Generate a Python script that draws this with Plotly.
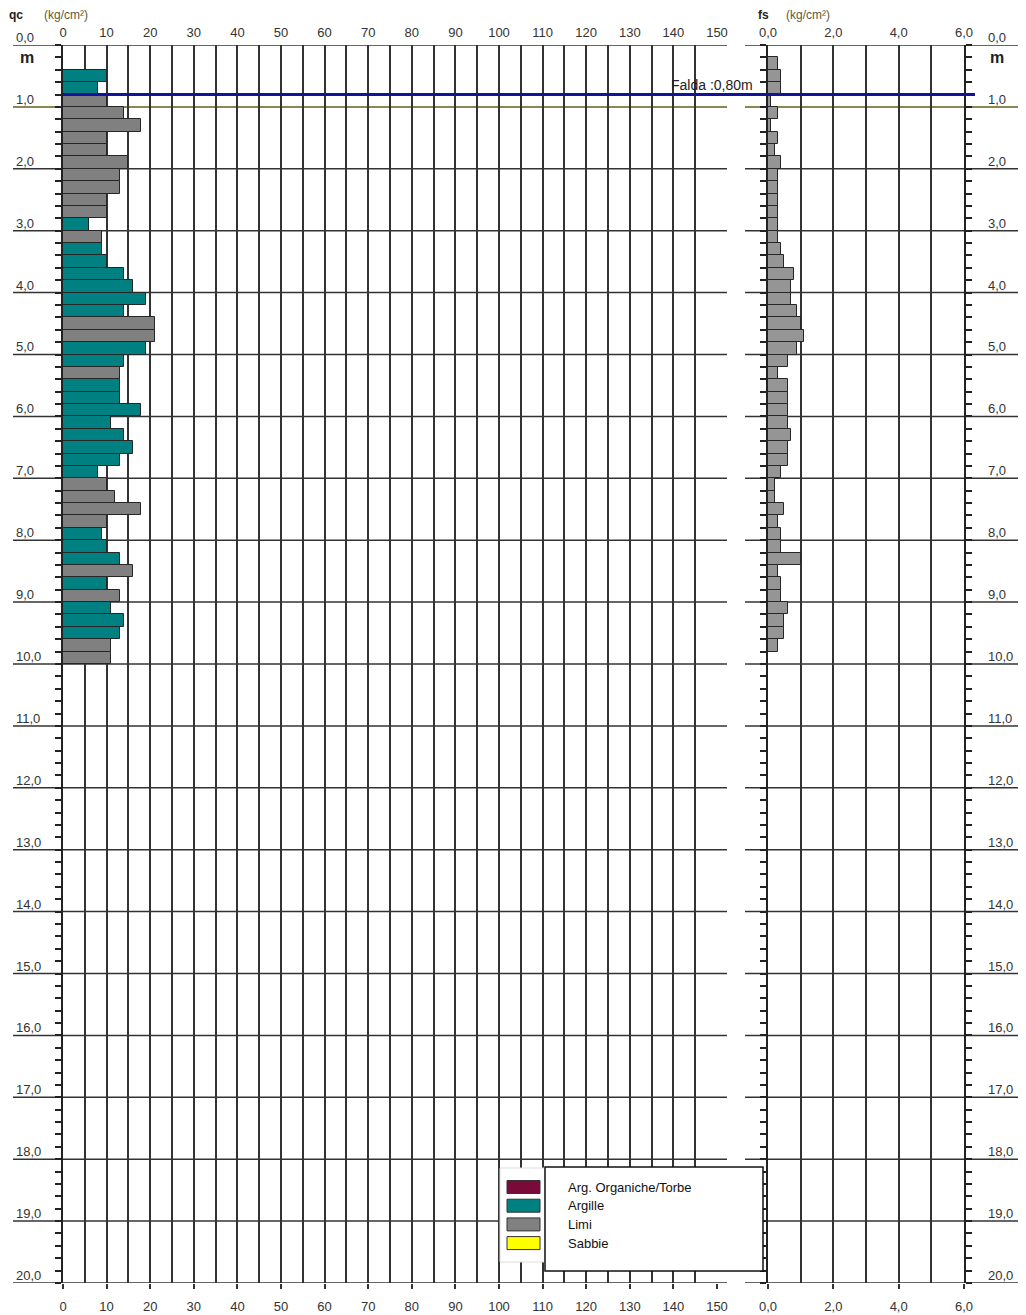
import plotly.graph_objects as go

W, H = 1026, 1315
FONT = "Liberation Sans, Arial, sans-serif"


def px(X):
    return X / W


def py(Y):
    return 1 - Y / H


# ---------------- data ----------------
# qc readings: top of each 0.2 m interval, value (kg/cm2), soil class
qc_top = [0.4, 0.6, 0.8, 1.0, 1.2, 1.4, 1.6, 1.8, 2.0, 2.2, 2.4, 2.6, 2.8, 3.0, 3.2, 3.4,
          3.6, 3.8, 4.0, 4.2, 4.4, 4.6, 4.8, 5.0, 5.2, 5.4, 5.6, 5.8, 6.0, 6.2, 6.4, 6.6,
          6.8, 7.0, 7.2, 7.4, 7.6, 7.8, 8.0, 8.2, 8.4, 8.6, 8.8, 9.0, 9.2, 9.4, 9.6, 9.8]
qc_val = [10, 8, 10, 14, 18, 10, 10, 15, 13, 13, 10, 10, 6, 9, 9, 10,
          14, 16, 19, 14, 21, 21, 19, 14, 13, 13, 13, 18, 11, 14, 16, 13,
          8, 10, 12, 18, 10, 9, 10, 13, 16, 10, 13, 11, 14, 13, 11, 11]
qc_class = ["A", "A", "L", "L", "L", "L", "L", "L", "L", "L", "L", "L", "A", "L", "A", "A",
            "A", "A", "A", "A", "L", "L", "A", "A", "L", "A", "A", "A", "A", "A", "A", "A",
            "A", "L", "L", "L", "L", "A", "A", "A", "L", "A", "L", "A", "A", "A", "L", "L"]

# fs readings: top of each 0.2 m interval, value (kg/cm2)
fs_top = [0.2, 0.4, 0.6, 0.8, 1.0, 1.2, 1.4, 1.6, 1.8, 2.0, 2.2, 2.4, 2.6, 2.8, 3.0, 3.2,
          3.4, 3.6, 3.8, 4.0, 4.2, 4.4, 4.6, 4.8, 5.0, 5.2, 5.4, 5.6, 5.8, 6.0, 6.2, 6.4,
          6.6, 6.8, 7.0, 7.2, 7.4, 7.6, 7.8, 8.0, 8.2, 8.4, 8.6, 8.8, 9.0, 9.2, 9.4, 9.6]
fs_val = [0.3, 0.4, 0.4, 0.1, 0.3, 0.1, 0.3, 0.2, 0.4, 0.3, 0.3, 0.3, 0.3, 0.3, 0.3, 0.4,
          0.5, 0.8, 0.7, 0.7, 0.9, 1.0, 1.1, 0.9, 0.6, 0.3, 0.6, 0.6, 0.6, 0.6, 0.7, 0.6,
          0.6, 0.4, 0.2, 0.2, 0.5, 0.3, 0.4, 0.4, 1.0, 0.3, 0.4, 0.4, 0.6, 0.5, 0.5, 0.3]

depth_major = [0, 1, 2, 3, 4, 5, 6, 7, 8, 9, 10, 11, 12, 13, 14, 15, 16, 17, 18, 19, 20]
falda_depth = 0.80
falda_label = "Falda :0,80m"

legend_labels = ["Arg. Organiche/Torbe", "Argille", "Limi", "Sabbie"]
legend_colors = ["#7a0a3a", "#008080", "#808080", "#ffff00"]
class_colors = {"A": "#008080", "L": "#808080"}

INTERVAL = 0.2
GRID = "#333333"
TXT = "#333333"

fig = go.Figure()

# qc bars
for cls in ["A", "L"]:
    ys = [t + INTERVAL / 2 for t, c in zip(qc_top, qc_class) if c == cls]
    xs = [v for v, c in zip(qc_val, qc_class) if c == cls]
    fig.add_trace(go.Bar(orientation="h", x=xs, y=ys, width=INTERVAL,
                         marker=dict(color=class_colors[cls], line=dict(color="#262626", width=1)),
                         xaxis="x", yaxis="y", showlegend=False, hoverinfo="skip"))

# fs bars
fig.add_trace(go.Bar(orientation="h", x=fs_val, y=[t + INTERVAL / 2 for t in fs_top], width=INTERVAL,
                     marker=dict(color="#959595", line=dict(color="#262626", width=1)),
                     xaxis="x2", yaxis="y2", showlegend=False, hoverinfo="skip"))

# helper traces so the top axes are drawn
fig.add_trace(go.Scatter(x=[None], y=[None], xaxis="x3", yaxis="y", mode="markers",
                         showlegend=False, hoverinfo="skip"))
fig.add_trace(go.Scatter(x=[None], y=[None], xaxis="x4", yaxis="y2", mode="markers",
                         showlegend=False, hoverinfo="skip"))

tickfont = dict(family=FONT, size=13, color=TXT)
ydom = [py(1283), py(45)]

shapes = []
annotations = []

# horizontal grid lines (per metre)
for d in depth_major:
    col = "#8a8656" if d == 1 else GRID
    wid = 2 if d == 1 else 1.5
    shapes.append(dict(type="line", xref="paper", yref="y", x0=px(13), x1=px(727), y0=d, y1=d,
                       line=dict(color=col, width=wid), layer="below"))
    shapes.append(dict(type="line", xref="paper", yref="y", x0=px(745), x1=px(1018), y0=d, y1=d,
                       line=dict(color=col, width=wid), layer="below"))
    lab = f"{d:.1f}".replace(".", ",")
    annotations.append(dict(xref="paper", yref="y", x=px(15), y=d, text=lab, showarrow=False,
                            xanchor="left", yanchor="bottom", yshift=-1, borderpad=0,
                            font=dict(family=FONT, size=13, color=TXT)))
    annotations.append(dict(xref="paper", yref="y", x=px(987), y=d, text=lab, showarrow=False,
                            xanchor="left", yanchor="bottom", yshift=-1, borderpad=0,
                            font=dict(family=FONT, size=13, color=TXT)))

# water table line
shapes.append(dict(type="line", xref="paper", yref="y", x0=px(63), x1=px(975),
                   y0=falda_depth, y1=falda_depth, line=dict(color="#12129a", width=3), layer="above"))
annotations.append(dict(xref="paper", yref="y", x=px(754), y=falda_depth, text=falda_label,
                        showarrow=False, xanchor="right", yanchor="bottom", yshift=1, borderpad=0,
                        font=dict(family=FONT, size=14, color="#222")))

# "m" labels
for X in (27, 997):
    annotations.append(dict(xref="paper", yref="paper", x=px(X), y=py(57), text="<b>m</b>",
                            showarrow=False, xanchor="center", yanchor="middle",
                            font=dict(family=FONT, size=16, color="#222")))

# axis titles
annotations.append(dict(xref="paper", yref="paper", x=px(7), y=py(15), text="<b>qc</b>",
                        showarrow=False, xanchor="left", yanchor="middle",
                        font=dict(family=FONT, size=12, color="#222")))
annotations.append(dict(xref="paper", yref="paper", x=px(42), y=py(15), text="(kg/cm²)",
                        showarrow=False, xanchor="left", yanchor="middle",
                        font=dict(family=FONT, size=12, color="#5e5a3a")))
annotations.append(dict(xref="paper", yref="paper", x=px(756), y=py(15), text="<b>fs</b>",
                        showarrow=False, xanchor="left", yanchor="middle",
                        font=dict(family=FONT, size=12, color="#222")))
annotations.append(dict(xref="paper", yref="paper", x=px(784), y=py(15), text="(kg/cm²)",
                        showarrow=False, xanchor="left", yanchor="middle",
                        font=dict(family=FONT, size=12, color="#5e5a3a")))

# legend
shapes.append(dict(type="rect", xref="paper", yref="paper", x0=px(500), x1=px(545), y0=py(1262), y1=py(1168),
                   fillcolor="white", line=dict(color="#dddddd", width=1), layer="above"))
shapes.append(dict(type="rect", xref="paper", yref="paper", x0=px(545), x1=px(763), y0=py(1271), y1=py(1167),
                   fillcolor="white", line=dict(color="#111111", width=1.5), layer="above"))
for i, (lab, col) in enumerate(zip(legend_labels, legend_colors)):
    yc = 1187 + i * 18.7
    shapes.append(dict(type="rect", xref="paper", yref="paper", x0=px(507), x1=px(540),
                       y0=py(yc + 6.5), y1=py(yc - 6.5), fillcolor=col,
                       line=dict(color="#333333", width=1), layer="above"))
    annotations.append(dict(xref="paper", yref="paper", x=px(566), y=py(yc), text=lab,
                            showarrow=False, xanchor="left", yanchor="middle",
                            font=dict(family=FONT, size=13, color="#111")))

fig.update_layout(
    width=W, height=H, autosize=False,
    margin=dict(l=0, r=0, t=0, b=0, pad=0, autoexpand=False),
    paper_bgcolor="white", plot_bgcolor="rgba(0,0,0,0)",
    separators=",.",
    barmode="overlay", bargap=0,
    showlegend=False,
    xaxis=dict(domain=[px(63), px(717)], range=[0, 150], anchor="y", side="bottom",
               tickmode="linear", tick0=0, dtick=10, ticks="outside", ticklen=5,
               tickwidth=1.5, tickcolor=GRID, showgrid=True, gridcolor=GRID, gridwidth=1.5,
               minor=dict(dtick=5, tick0=0, showgrid=True, gridcolor=GRID, gridwidth=1.5, ticks=""),
               zeroline=False, showline=False, tickfont=tickfont, ticklabelstandoff=6,
               automargin=False, fixedrange=True),
    xaxis3=dict(overlaying="x", side="top", anchor="y", range=[0, 150],
                tickmode="linear", tick0=0, dtick=10, ticks="", showgrid=False,
                zeroline=False, showline=False, tickfont=tickfont, ticklabelstandoff=4,
                automargin=False, fixedrange=True),
    xaxis2=dict(domain=[px(768), px(964)], range=[0, 6], anchor="y2", side="bottom",
                tickmode="linear", tick0=0, dtick=2, tickformat=".1f", ticks="outside", ticklen=5,
                tickwidth=1.5, tickcolor=GRID, showgrid=True, gridcolor=GRID, gridwidth=1.5,
                minor=dict(dtick=1, tick0=0, showgrid=True, gridcolor=GRID, gridwidth=1.5, ticks=""),
                zeroline=False, showline=False, tickfont=tickfont, ticklabelstandoff=6,
                automargin=False, fixedrange=True),
    xaxis4=dict(overlaying="x2", side="top", anchor="y2", range=[0, 6],
                tickmode="linear", tick0=0, dtick=2, tickformat=".1f", ticks="", showgrid=False,
                zeroline=False, showline=False, tickfont=tickfont, ticklabelstandoff=4,
                automargin=False, fixedrange=True),
    yaxis=dict(domain=ydom, range=[20, 0], anchor="x", tickmode="linear", tick0=0, dtick=0.2,
               ticks="outside", ticklen=6, tickwidth=1.5, tickcolor="#222",
               showticklabels=False, showgrid=False, zeroline=False, automargin=False,
               showline=True, linecolor="#222", linewidth=2, fixedrange=True),
    yaxis2=dict(domain=ydom, range=[20, 0], anchor="x2", tickmode="linear", tick0=0, dtick=0.2,
                ticks="outside", ticklen=6, tickwidth=1.5, tickcolor="#222", mirror="ticks",
                showticklabels=False, showgrid=False, zeroline=False, automargin=False,
                showline=True, linecolor="#222", linewidth=2, fixedrange=True),
    shapes=shapes,
    annotations=annotations,
)

fig.write_html("out.html", config={"displayModeBar": False},
               post_script="document.body.style.margin='0px';")
